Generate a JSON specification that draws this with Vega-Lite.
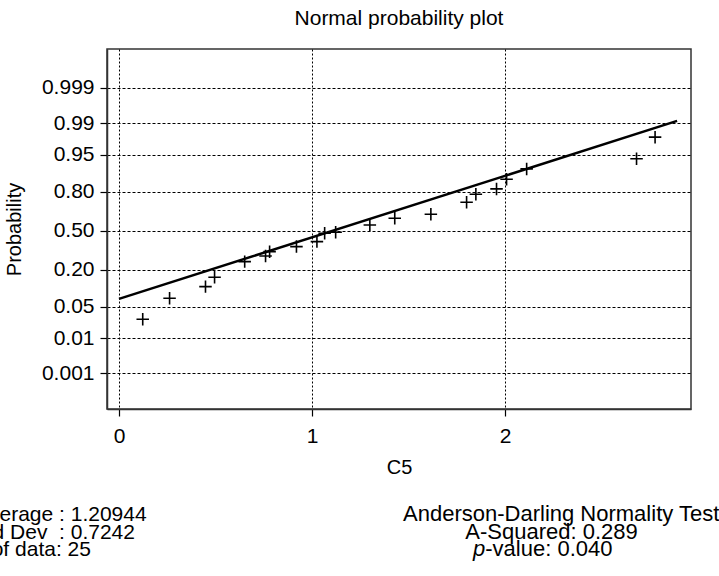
{
  "$schema": "https://vega.github.io/schema/vega-lite/v6.json",
  "autosize": {"type": "none"},
  "padding": {"left": 107, "top": 49, "right": 28, "bottom": 167},
  "width": 584,
  "height": 360,
  "background": "white",
  "title": {"text": "Normal probability plot", "fontSize": 21, "font": "Liberation Sans", "fontWeight": "normal", "color": "black", "anchor": "middle", "frame": "group", "baseline": "alphabetic", "offset": 3},
  "config": {
    "font": "Liberation Sans",
    "view": {"stroke": "#333333", "strokeWidth": 1.5},
    "axis": {"labelFont": "Liberation Sans", "titleFont": "Liberation Sans", "labelColor": "black", "titleColor": "black", "titleFontWeight": "normal"}
  },
  "datasets": {
    "scores": [
      {"c5": 0.123, "normal_score": -1.918},
      {"c5": 0.262, "normal_score": -1.463},
      {"c5": 0.448, "normal_score": -1.212},
      {"c5": 0.495, "normal_score": -1.009},
      {"c5": 0.651, "normal_score": -0.671},
      {"c5": 0.759, "normal_score": -0.548},
      {"c5": 0.780, "normal_score": -0.455},
      {"c5": 0.919, "normal_score": -0.346},
      {"c5": 1.025, "normal_score": -0.238},
      {"c5": 1.065, "normal_score": -0.056},
      {"c5": 1.122, "normal_score": -0.035},
      {"c5": 1.299, "normal_score": 0.123},
      {"c5": 1.428, "normal_score": 0.268},
      {"c5": 1.615, "normal_score": 0.355},
      {"c5": 1.800, "normal_score": 0.615},
      {"c5": 1.848, "normal_score": 0.788},
      {"c5": 1.955, "normal_score": 0.903},
      {"c5": 2.007, "normal_score": 1.113},
      {"c5": 2.111, "normal_score": 1.335},
      {"c5": 2.680, "normal_score": 1.556},
      {"c5": 2.776, "normal_score": 2.022}
    ],
    "fit": [
      {"c5": 0.0, "normal_score": -1.478},
      {"c5": 2.89, "normal_score": 2.374}
    ],
    "blank": [{}]
  },
  "layer": [
    {
      "data": {"name": "scores"},
      "mark": {"type": "point", "shape": "M-1,0H1M0,-1V1", "filled": false, "color": "black", "strokeWidth": 1.6, "size": 156, "opacity": 1},
      "encoding": {
        "x": {
          "field": "c5", "type": "quantitative",
          "scale": {"domain": [-0.062, 2.962], "nice": false, "zero": false},
          "axis": {"values": [0, 1, 2], "format": "d", "grid": true, "gridColor": "black", "gridDash": [2, 2], "gridWidth": 1, "tickSize": 7, "tickColor": "black", "tickWidth": 1.2, "domain": true, "domainColor": "#333333", "domainWidth": 1.5, "labelFontSize": 21, "labelPadding": 9, "labelFlush": false, "title": "C5", "titleFontSize": 20, "titlePadding": 11}
        },
        "y": {
          "field": "normal_score", "type": "quantitative",
          "scale": {"domain": [-3.86, 3.93], "nice": false, "zero": false},
          "axis": {"values": [-3.0902, -2.3263, -1.6449, -0.8416, 0, 0.8416, 1.6449, 2.3263, 3.0902],
            "labelExpr": "datum.value < -3 ? '0.001' : datum.value < -2 ? '0.01' : datum.value < -1 ? '0.05' : datum.value < -0.5 ? '0.20' : datum.value < 0.5 ? '0.50' : datum.value < 1 ? '0.80' : datum.value < 2 ? '0.95' : datum.value < 3 ? '0.99' : '0.999'",
            "grid": true, "gridColor": "black", "gridDash": [3, 2], "gridWidth": 1, "tickSize": 7, "tickColor": "black", "tickWidth": 1.2, "domain": true, "domainColor": "#333333", "domainWidth": 1.5, "labelFontSize": 21, "labelPadding": 6, "labelFlush": false, "labelOverlap": false, "title": "Probability", "titleFontSize": 20, "titlePadding": 17}
        }
      }
    },
    {
      "data": {"name": "fit"},
      "mark": {"type": "line", "color": "black", "strokeWidth": 2.5},
      "encoding": {
        "x": {"field": "c5", "type": "quantitative"},
        "y": {"field": "normal_score", "type": "quantitative"}
      }
    },
    {
      "data": {"name": "blank"},
      "mark": {"type": "text", "text": "Average : 1.20944", "align": "left", "baseline": "alphabetic", "fontSize": 21, "color": "black"},
      "encoding": {"x": {"datum": -0.7435, "type": "quantitative"}, "y": {"datum": -6.29, "type": "quantitative"}}
    },
    {
      "data": {"name": "blank"},
      "mark": {"type": "text", "text": "Std Dev\u00a0\u00a0: 0.7242", "align": "left", "baseline": "alphabetic", "fontSize": 21, "color": "black"},
      "encoding": {"x": {"datum": -0.7575, "type": "quantitative"}, "y": {"datum": -6.665, "type": "quantitative"}}
    },
    {
      "data": {"name": "blank"},
      "mark": {"type": "text", "text": "No. of data: 25", "align": "left", "baseline": "alphabetic", "fontSize": 21, "color": "black"},
      "encoding": {"x": {"datum": -0.8585, "type": "quantitative"}, "y": {"datum": -7.033, "type": "quantitative"}}
    },
    {
      "data": {"name": "blank"},
      "mark": {"type": "text", "text": "Anderson-Darling Normality Test", "align": "left", "baseline": "alphabetic", "fontSize": 22, "color": "black"},
      "encoding": {"x": {"datum": 1.4709, "type": "quantitative"}, "y": {"datum": -6.276, "type": "quantitative"}}
    },
    {
      "data": {"name": "blank"},
      "mark": {"type": "text", "text": "A-Squared: 0.289", "align": "center", "baseline": "alphabetic", "fontSize": 22, "color": "black"},
      "encoding": {"x": {"datum": 2.2399, "type": "quantitative"}, "y": {"datum": -6.676, "type": "quantitative"}}
    },
    {
      "data": {"name": "blank"},
      "mark": {"type": "text", "text": "p", "align": "left", "baseline": "alphabetic", "fontSize": 22, "fontStyle": "italic", "color": "black"},
      "encoding": {"x": {"datum": 1.8335, "type": "quantitative"}, "y": {"datum": -7.033, "type": "quantitative"}}
    },
    {
      "data": {"name": "blank"},
      "mark": {"type": "text", "text": "-value: 0.040", "align": "left", "baseline": "alphabetic", "fontSize": 22, "color": "black"},
      "encoding": {"x": {"datum": 1.8968, "type": "quantitative"}, "y": {"datum": -7.033, "type": "quantitative"}}
    }
  ]
}
